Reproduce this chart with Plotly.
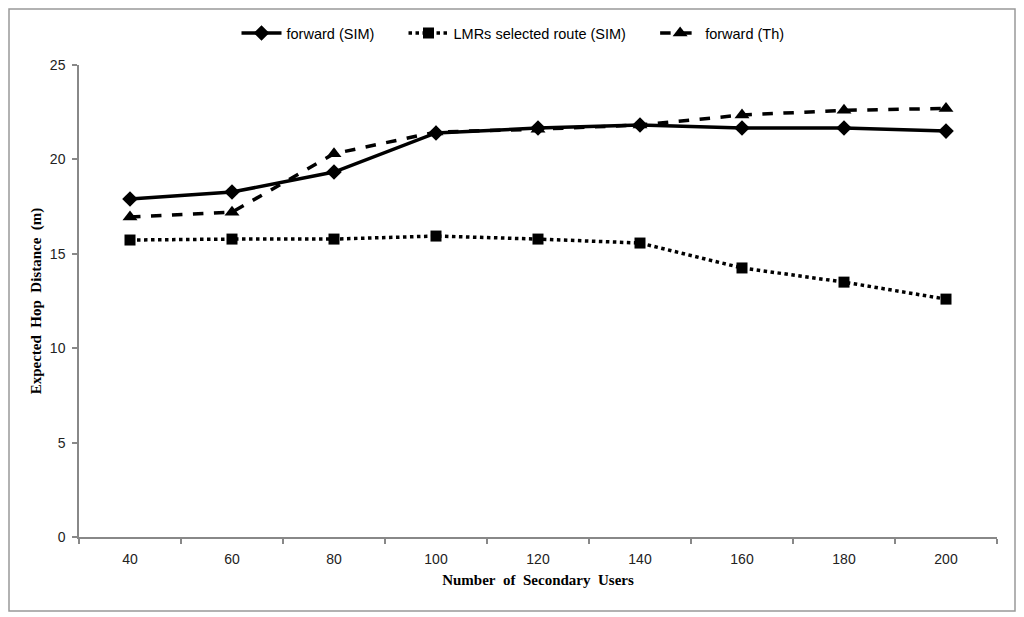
import plotly.graph_objects as go

users = ["40", "60", "80", "100", "120", "140", "160", "180", "200"]
forward_sim = [17.9, 18.27, 19.33, 21.4, 21.66, 21.82, 21.66, 21.66, 21.5]
lmrs_sim = [15.73, 15.78, 15.78, 15.94, 15.78, 15.57, 14.25, 13.5, 12.6]
forward_th = [16.95, 17.2, 20.3, 21.45, 21.6, 21.82, 22.35, 22.6, 22.7]
y_ticks = [0, 5, 10, 15, 20, 25]

GAP = "\u00a0" * 6

fig = go.Figure()
fig.add_trace(go.Scatter(
    x=users, y=forward_sim, name="forward (SIM)" + GAP, mode="lines+markers",
    line=dict(color="black", width=3.5, dash="solid"),
    marker=dict(symbol="diamond", size=12, color="black")))
fig.add_trace(go.Scatter(
    x=users, y=lmrs_sim, name="LMRs selected route (SIM)" + GAP, mode="lines+markers",
    line=dict(color="black", width=3.5, dash="dot"),
    marker=dict(symbol="square", size=11, color="black")))
fig.add_trace(go.Scatter(
    x=users, y=forward_th, name="forward (Th)", mode="lines+markers",
    line=dict(color="black", width=3.5, dash="dash"),
    marker=dict(symbol="triangle-up", size=13, color="black")))

# page is offset by 8px body margin; coordinates below are in screen pixels
OFF = 8
W, H = 1008, 609
L, T = 79 - OFF, 65 - OFF
R = W - (997 - OFF)
B = H - (537 - OFF)
pw, ph = W - L - R, H - T - B

def px(x):
    return (x - OFF - L) / pw

def py(y):
    return (H - B - (y - OFF)) / ph

fig.update_layout(
    width=W, height=H,
    margin=dict(l=L, r=R, t=T, b=B, autoexpand=False),
    plot_bgcolor="white", paper_bgcolor="white",
    showlegend=True,
    legend=dict(orientation="h", x=px(513), xanchor="center", y=py(33), yanchor="middle",
                font=dict(family="Liberation Sans", size=14.5, color="black"),
                itemwidth=40, traceorder="normal"),
    xaxis=dict(type="category", range=[-0.5, 8.5], showline=True, linecolor="#888888",
               linewidth=1.5, ticks="outside", tickson="boundaries", ticklen=5,
               tickcolor="#888888", tickwidth=1.5, showgrid=False, zeroline=False,
               ticklabelstandoff=8,
               tickfont=dict(family="Liberation Sans", size=14, color="#222222"),
               title=dict(text="Number\u00a0 of\u00a0 Secondary\u00a0 Users", standoff=9,
                          font=dict(family="Liberation Serif", size=15, color="black", weight="bold"))),
    yaxis=dict(range=[0, 25], tickvals=y_ticks, showline=True, linecolor="#888888",
               linewidth=1.5, ticks="outside", ticklen=5, tickcolor="#888888", tickwidth=1.5,
               showgrid=False, zeroline=False, ticklabelstandoff=4,
               tickfont=dict(family="Liberation Sans", size=14, color="#222222"),
               title=dict(text="Expected\u00a0 Hop\u00a0 Distance\u00a0 (m)", standoff=5,
                          font=dict(family="Liberation Serif", size=15, color="black", weight="bold"))),
    shapes=[dict(type="rect", xref="paper", yref="paper",
                 x0=px(OFF + 1), x1=px(1015), y0=py(611), y1=py(OFF + 1),
                 line=dict(color="#999999", width=1.5), fillcolor="rgba(0,0,0,0)", layer="below")],
)

fig.write_html("out.html")
